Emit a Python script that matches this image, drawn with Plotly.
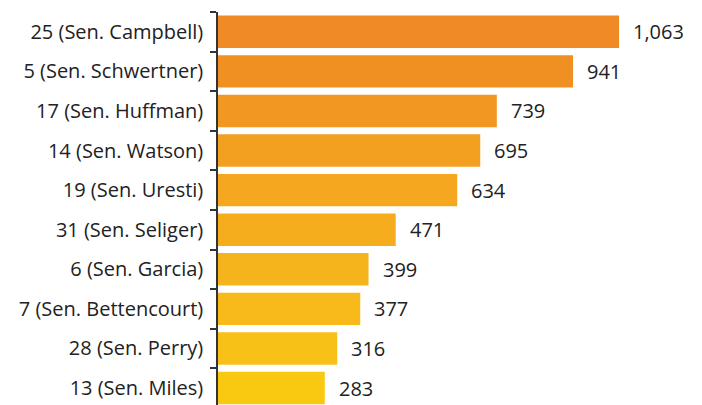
import plotly.graph_objects as go

districts = ["25 (Sen. Campbell)", "5 (Sen. Schwertner)", "17 (Sen. Huffman)",
             "14 (Sen. Watson)", "19 (Sen. Uresti)", "31 (Sen. Seliger)",
             "6 (Sen. Garcia)", "7 (Sen. Bettencourt)", "28 (Sen. Perry)",
             "13 (Sen. Miles)"]
values = [1063, 941, 739, 695, 634, 471, 399, 377, 316, 283]
bar_colors = ["#F08A24", "#F19022", "#F29822", "#F39F20", "#F4A71F",
              "#F5AD1E", "#F6B41C", "#F7BA1A", "#F8C118", "#F9C912"]

FONT = "Open Sans"

fig = go.Figure(go.Bar(
    x=values, y=districts, orientation="h",
    marker=dict(color=bar_colors, line=dict(width=0)),
    hoverinfo="skip",
))

for v, d in zip(values, districts):
    fig.add_annotation(x=v, y=d, text=f"{v:,}", showarrow=False,
                       xanchor="left", xshift=12,
                       font=dict(family=FONT, size=20, color="#222222"))

fig.update_layout(
    width=702, height=405,
    margin=dict(l=210, r=0, t=4, b=0),
    paper_bgcolor="white", plot_bgcolor="white",
    bargap=0.18, showlegend=False,
    font=dict(family=FONT, size=20, color="#222222"),
)
fig.update_xaxes(range=[0, 1304], visible=False)
fig.update_yaxes(
    categoryorder="array", categoryarray=districts,
    range=[9.63, -0.5],
    showline=True, linecolor="#333333", linewidth=1.5,
    ticks="outside", ticklen=6, tickcolor="#333333", tickwidth=1.5,
    tickson="boundaries", showgrid=False, zeroline=False,
    ticklabelstandoff=9,
)
fig.write_html("out.html")
